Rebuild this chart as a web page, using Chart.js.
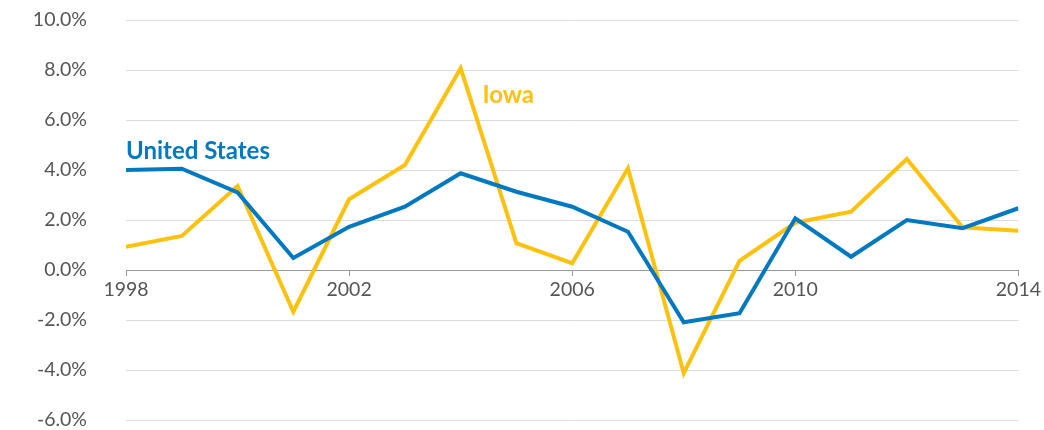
<!DOCTYPE html>
<html>
<head>
<meta charset="utf-8">
<script src="https://cdn.jsdelivr.net/npm/chart.js@4/dist/chart.umd.min.js"></script>
<style>
html,body{margin:0;padding:0;background:#fff;}
#wrap{width:1044px;height:430px;position:relative;}
</style>
</head>
<body>
<div id="wrap"><canvas id="c" width="1044" height="430"></canvas></div>
<script>
const years = [1998,1999,2000,2001,2002,2003,2004,2005,2006,2007,2008,2009,2010,2011,2012,2013,2014];
const usValues = [4.0,4.05,3.1,0.48,1.73,2.53,3.87,3.13,2.53,1.53,-2.09,-1.73,2.07,0.53,2.0,1.67,2.47];
const iowaValues = [0.93,1.36,3.36,-1.67,2.83,4.2,8.07,1.07,0.27,4.07,-4.13,0.37,1.89,2.33,4.44,1.71,1.57];
const xTickYears = [1998,2002,2006,2010,2014];
const yTickValues = [-6,-4,-2,0,2,4,6,8,10];
const seriesLabels = [
  {text:'United States', x:1998, y:4.74, color:'#0079c1', align:'left'},
  {text:'Iowa', x:2004.39, y:6.98, color:'#fec10d', align:'left'}
];

const labelPlugin = {
  id:'seriesLabels',
  afterDatasetsDraw(chart){
    const ctx = chart.ctx, xs = chart.scales.x, ys = chart.scales.y;
    ctx.save();
    ctx.font = 'bold 24px Lato';
    ctx.textBaseline = 'middle';
    seriesLabels.forEach(l=>{
      ctx.fillStyle = l.color;
      ctx.textAlign = l.align;
      ctx.fillText(l.text, xs.getPixelForValue(l.x), ys.getPixelForValue(l.y));
    });
    ctx.restore();
  }
};

new Chart(document.getElementById('c'), {
  type:'line',
  data:{
    datasets:[
      {label:'Iowa', data: years.map((y,i)=>({x:y,y:iowaValues[i]})), borderColor:'#fec10d', borderWidth:4, pointRadius:0, tension:0, borderJoinStyle:'miter', order:2},
      {label:'United States', data: years.map((y,i)=>({x:y,y:usValues[i]})), borderColor:'#0079c1', borderWidth:4, pointRadius:0, tension:0, borderJoinStyle:'miter', order:1}
    ]
  },
  options:{
    responsive:false,
    animation:false,
    layout:{padding:{top:20,bottom:10,right:25,left:0}},
    plugins:{legend:{display:false}, tooltip:{enabled:false}},
    scales:{
      x:{
        type:'linear',
        position:{y:0},
        min:1998, max:2014,
        afterBuildTicks(s){ s.ticks = xTickYears.map(v=>({value:v})); },
        afterFit(s){ s.height = 0; s.paddingTop = 0; s.paddingBottom = 0; },
        ticks:{font:{family:'Lato',size:19.5}, color:'#555', padding:3, maxRotation:0, callback:v=>String(v)},
        grid:{drawOnChartArea:false, drawTicks:true, tickLength:5, color:'#999'},
        border:{display:true, color:'#999', width:1}
      },
      y:{
        min:-6, max:10,
        afterBuildTicks(s){ s.ticks = yTickValues.map(v=>({value:v})); },
        afterFit(s){ s.width = 126; s.paddingTop = 0; s.paddingBottom = 0; },
        ticks:{font:{family:'Lato',size:19.5}, color:'#555', padding:39, callback:v=>v.toFixed(1)+'%'},
        grid:{color:'#dcdcdc', lineWidth:1, drawTicks:false},
        border:{display:false}
      }
    }
  },
  plugins:[labelPlugin]
});
</script>
</body>
</html>
